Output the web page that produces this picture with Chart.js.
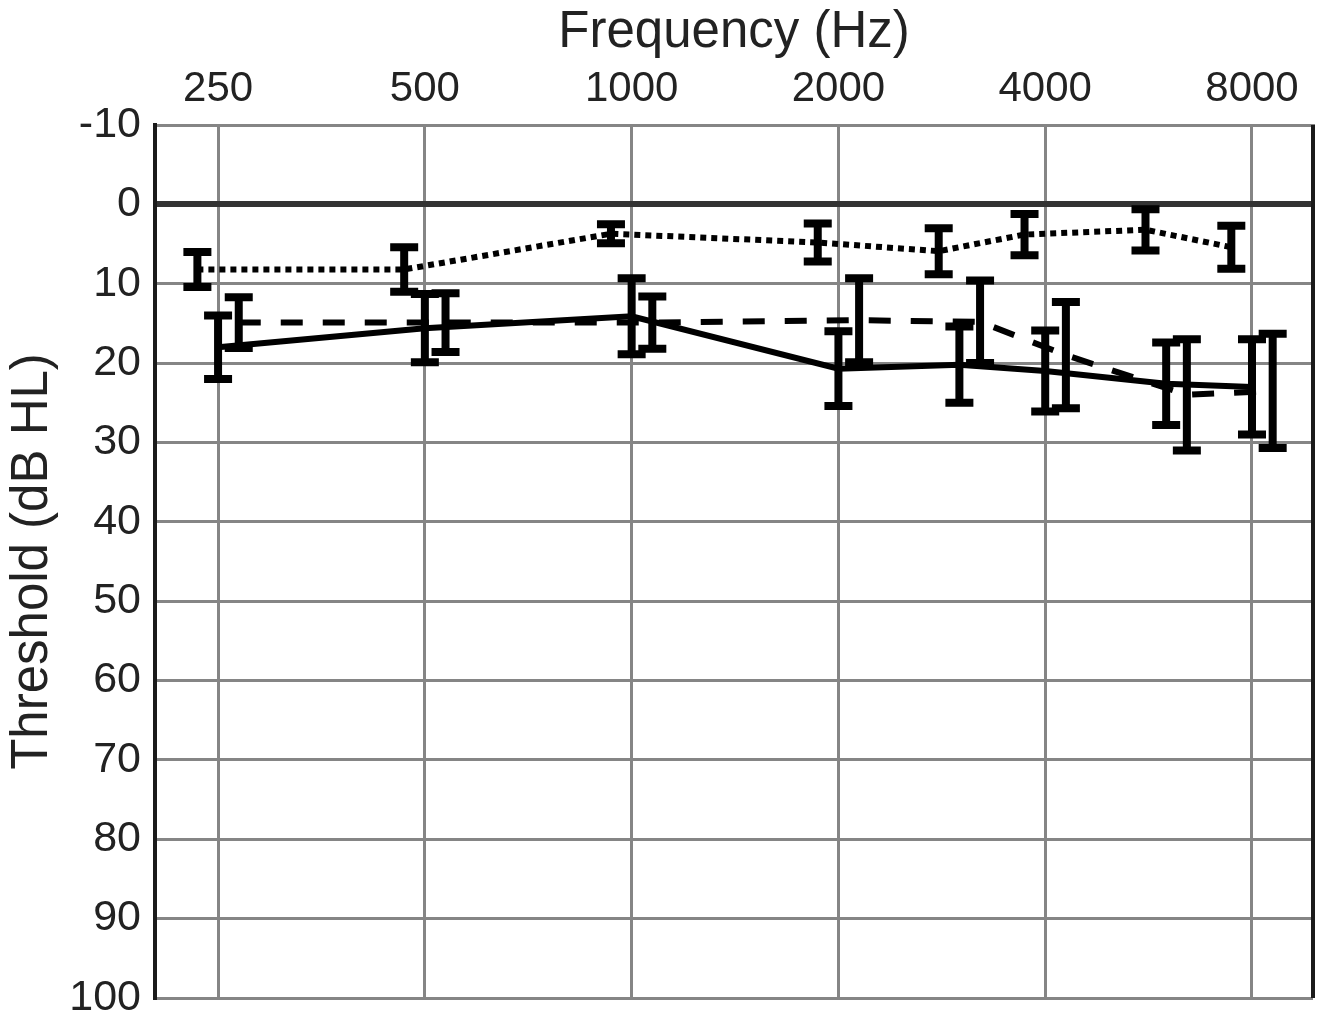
<!DOCTYPE html>
<html>
<head>
<meta charset="utf-8">
<title>Threshold vs frequency</title>
<script src="https://cdn.jsdelivr.net/npm/chart.js@4/dist/chart.umd.min.js"></script>
<style>
  html, body { margin: 0; padding: 0; background: #fff; }
  #wrap { width: 1323px; height: 1021px; }
</style>
</head>
<body>
<div id="wrap"><canvas id="audiogram" width="1323" height="1021"></canvas></div>
<script>
// test frequencies (Hz) and tick labels
const freqs = [250, 500, 1000, 2000, 3000, 4000, 6000, 8000];
const tickFreqs = [250, 500, 1000, 2000, 4000, 8000];
const thresholdTicks = [-10, 0, 10, 20, 30, 40, 50, 60, 70, 80, 90, 100];

// mean thresholds (dB HL) and error bar half-lengths
const dottedMean = [8.2, 8.2, 3.7, 4.8, 5.9, 3.8, 3.2, 5.4];
const dottedErr  = [2.2, 2.8, 1.2, 2.4, 2.9, 2.6, 2.6, 2.7];
const solidMean  = [18.0, 15.6, 14.1, 20.7, 20.2, 21.0, 22.6, 23.0];
const solidErr   = [4.0, 4.3, 4.8, 4.7, 4.8, 5.1, 5.2, 6.0];
const dashedMean = [14.9, 14.9, 14.9, 14.6, 14.8, 19.0, 24.0, 23.5];
const dashedErr  = [3.2, 3.7, 3.3, 5.3, 5.2, 6.7, 7.0, 7.2];

// horizontal nudge (in octaves) so the error bars don't sit on top of each other
const nudge = 0.1;
const oct = f => Math.log2(f / 250);

function points(means, shift) {
    return freqs.map((f, i) => ({ x: oct(f) + shift, y: means[i] }));
}

const errorBars = {
    id: "errorBars",
    afterDatasetsDraw(chart) {
        const ctx = chart.ctx;
        const y = chart.scales.y;
        ctx.save();
        ctx.strokeStyle = "#000";
        ctx.lineCap = "butt";
        ctx.lineWidth = 8;
        chart.data.datasets.forEach((ds, i) => {
            const meta = chart.getDatasetMeta(i);
            meta.data.forEach((pt, j) => {
                const top = y.getPixelForValue(ds.means[j] - ds.errs[j]);
                const bot = y.getPixelForValue(ds.means[j] + ds.errs[j]);
                ctx.beginPath();
                ctx.moveTo(pt.x, top);
                ctx.lineTo(pt.x, bot);
                ctx.moveTo(pt.x - 14, top);
                ctx.lineTo(pt.x + 14, top);
                ctx.moveTo(pt.x - 14, bot);
                ctx.lineTo(pt.x + 14, bot);
                ctx.stroke();
            });
        });
        ctx.restore();
    }
};

const frame = {
    id: "frame",
    afterDraw(chart) {
        const a = chart.chartArea;
        const ctx = chart.ctx;
        ctx.save();
        ctx.strokeStyle = "#1a1a1a";
        ctx.lineWidth = 4;
        ctx.beginPath();
        ctx.moveTo(a.right, a.top);
        ctx.lineTo(a.right, a.bottom);
        ctx.stroke();
        ctx.restore();
    }
};

document.addEventListener("DOMContentLoaded", () => {
    const canvas = document.getElementById("audiogram");
    if (typeof Chart === "undefined") {
        console.warn("Chart.js not loaded");
        return;
    }
    Chart.defaults.font.family = "'Liberation Sans', Arial, sans-serif";
    Chart.defaults.color = "#222";

    new Chart(canvas, {
        type: "scatter",
        data: {
            datasets: [
                {
                    label: "dotted",
                    data: points(dottedMean, -nudge),
                    means: dottedMean,
                    errs: dottedErr,
                    showLine: true,
                    borderColor: "#000",
                    borderWidth: 6,
                    borderDash: [6, 5],
                    pointRadius: 0,
                },
                {
                    label: "solid",
                    data: points(solidMean, 0),
                    means: solidMean,
                    errs: solidErr,
                    showLine: true,
                    borderColor: "#000",
                    borderWidth: 6,
                    pointRadius: 0,
                },
                {
                    label: "dashed",
                    data: points(dashedMean, nudge),
                    means: dashedMean,
                    errs: dashedErr,
                    showLine: true,
                    borderColor: "#000",
                    borderWidth: 6,
                    borderDash: [22, 20],
                    pointRadius: 0,
                },
            ],
        },
        options: {
            responsive: false,
            animation: false,
            devicePixelRatio: 1,
            layout: { padding: { left: 0, right: 10, top: 0, bottom: 0 } },
            plugins: {
                legend: { display: false },
                tooltip: { enabled: false },
            },
            scales: {
                x: {
                    type: "linear",
                    position: "top",
                    min: -0.305,
                    max: 5.295,
                    afterBuildTicks: s => { s.ticks = tickFreqs.map(f => ({ value: oct(f) })); },
                    afterFit: s => { s.height = 125; },
                    ticks: {
                        autoSkip: false,
                        maxRotation: 0,
                        padding: 10,
                        font: { size: 42 },
                        callback: v => String(Math.round(250 * Math.pow(2, v))),
                    },
                    grid: { color: "#858585", lineWidth: 3, drawTicks: false },
                    border: { color: "#858585", width: 3 },
                    title: {
                        display: true,
                        text: "Frequency (Hz)",
                        font: { size: 51 },
                        padding: { top: 2, bottom: 0 },
                    },
                },
                y: {
                    reverse: true,
                    min: -10,
                    max: 100,
                    afterBuildTicks: s => { s.ticks = thresholdTicks.map(v => ({ value: v })); },
                    afterFit: s => {
                        s.width = 155;
                        s.paddingTop = 0;
                        s.paddingBottom = 23;
                    },
                    ticks: {
                        padding: 14,
                        font: { size: 43 },
                    },
                    grid: {
                        color: c => (c.tick && c.tick.value === 0 ? "#333" : "#858585"),
                        lineWidth: c => (c.tick && c.tick.value === 0 ? 6 : 3),
                        drawTicks: false,
                    },
                    border: { color: "#1a1a1a", width: 4 },
                    title: {
                        display: true,
                        text: "Threshold (dB HL)",
                        font: { size: 51 },
                        padding: { top: 2, bottom: 0 },
                    },
                },
            },
        },
        plugins: [errorBars, frame],
    });
});
</script>
</body>
</html>
